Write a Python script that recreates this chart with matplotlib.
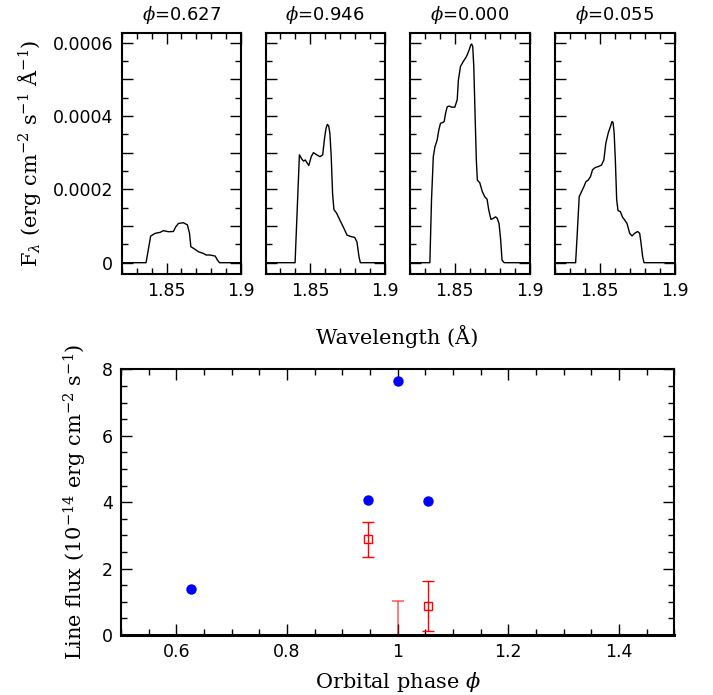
import matplotlib
matplotlib.use("Agg")
import matplotlib.pyplot as plt
from matplotlib.ticker import MultipleLocator, FuncFormatter

plt.rcParams['font.family'] = ['DejaVu Sans']
plt.rcParams['mathtext.fontset'] = 'dejavuserif'

# ---- spectra (wavelength in Angstrom, flux in 1e-4 erg cm^-2 s^-1 A^-1) ----
titles = ["0.627", "0.946", "0.000", "0.055"]

wl_627 = [1.820, 1.8363, 1.8394, 1.8424, 1.8457, 1.8479, 1.8513, 1.8546, 1.8562, 1.858,
          1.8613, 1.864, 1.8654, 1.8663, 1.8681, 1.8714, 1.8748, 1.8765, 1.8792, 1.8826,
          1.8841, 1.8855, 1.900]
fx_627 = [0, 0, 0.727, 0.80, 0.827, 0.873, 0.845, 0.85, 0.98, 1.07,
          1.09, 1.03, 0.80, 0.436, 0.39, 0.30, 0.25, 0.21, 0.21, 0.18,
          0.07, 0, 0]

wl_946 = [1.820, 1.8398, 1.8427, 1.8444, 1.8455, 1.8466, 1.8477, 1.849, 1.8506, 1.8521,
          1.8543, 1.8565, 1.8583, 1.8594, 1.8605, 1.8614, 1.8623, 1.8631, 1.864, 1.8649,
          1.8658, 1.8676, 1.8698, 1.872, 1.8746, 1.8775, 1.8797, 1.8812, 1.8826, 1.8835,
          1.900]
fx_946 = [0, 0, 2.94, 2.82, 2.77, 2.80, 2.73, 2.65, 2.89, 3.00,
          2.94, 2.89, 2.94, 3.35, 3.66, 3.77, 3.73, 3.53, 2.89, 1.89,
          1.45, 1.35, 1.16, 0.98, 0.75, 0.71, 0.69, 0.57, 0.16, 0,
          0]

wl_000 = [1.820, 1.8333, 1.8344, 1.8356, 1.8367, 1.8382, 1.8393, 1.8404, 1.8418, 1.8429,
          1.8438, 1.8449, 1.8462, 1.8478, 1.85, 1.8516, 1.8524, 1.8538, 1.8556, 1.8578,
          1.8596, 1.8607, 1.8613, 1.862, 1.8627, 1.8636, 1.8644, 1.8651, 1.8667, 1.8684,
          1.87, 1.8716, 1.8727, 1.8742, 1.8758, 1.8773, 1.8784, 1.8796, 1.8807, 1.8816,
          1.8831, 1.900]
fx_000 = [0, 0, 1.71, 2.89, 3.16, 3.35, 3.62, 3.80, 3.82, 3.85,
          4.07, 4.25, 4.27, 4.24, 4.24, 4.44, 4.98, 5.35, 5.48, 5.62,
          5.80, 5.94, 5.96, 5.89, 5.35, 3.98, 2.80, 2.25, 2.18, 1.94,
          1.80, 1.73, 1.44, 1.18, 1.21, 1.25, 1.21, 1.07, 0.62, 0.07,
          0, 0]

wl_055 = [1.820, 1.8338, 1.8349, 1.8362, 1.8378, 1.8393, 1.8407, 1.8422, 1.8438, 1.8451,
          1.8467, 1.8489, 1.8511, 1.8527, 1.854, 1.8556, 1.8571, 1.8582, 1.8589, 1.8596,
          1.8604, 1.8613, 1.8622, 1.8638, 1.8651, 1.8667, 1.8682, 1.87, 1.8716, 1.8733,
          1.8753, 1.8767, 1.8776, 1.8787, 1.8796, 1.900]
fx_055 = [0, 0, 0.80, 1.80, 1.94, 2.07, 2.21, 2.25, 2.35, 2.53,
          2.59, 2.62, 2.66, 2.80, 3.25, 3.53, 3.71, 3.85, 3.82, 3.53,
          2.80, 1.71, 1.42, 1.39, 1.25, 1.16, 1.07, 0.80, 0.73, 0.80,
          0.85, 0.80, 0.53, 0.16, 0, 0]

spec_wl = [wl_627, wl_946, wl_000, wl_055]
spec_fx = [fx_627, fx_946, fx_000, fx_055]

# ---- line fluxes (1e-14 erg cm^-2 s^-1) ----
phase_blue = [0.627, 0.946, 1.000, 1.055]
flux_blue = [1.39, 4.07, 7.64, 4.03]

phase_red = [0.946, 1.055]
flux_red = [2.89, 0.87]
err_red_lo = [0.53, 0.74]
err_red_hi = [0.52, 0.75]

phase_lim = [1.000]
flux_lim = [0.0]
err_lim = [1.03]

W, H = 713, 695
fig = plt.figure(figsize=(W / 100, H / 100), dpi=100)

def frac(x0, y0, x1, y1):
    return [x0 / W, 1 - y1 / H, (x1 - x0) / W, (y1 - y0) / H]

lefts = [121.7, 265.5, 410, 555]
tick_kw = dict(direction='in', top=True, right=True)

for i in range(4):
    ax = fig.add_axes(frac(lefts[i], 32.7, lefts[i] + 119.5, 274))
    ax.plot(spec_wl[i], [v * 1e-4 for v in spec_fx[i]], color='black', lw=1.0)
    ax.set_xlim(1.82, 1.90)
    ax.set_ylim(-0.0000308, 0.000627)
    ax.xaxis.set_major_locator(MultipleLocator(0.05))
    ax.xaxis.set_minor_locator(MultipleLocator(0.01))
    ax.yaxis.set_major_locator(MultipleLocator(0.0001))
    ax.yaxis.set_minor_locator(MultipleLocator(0.00005))
    ax.xaxis.set_major_formatter(FuncFormatter(lambda v, p: '%g' % round(v, 3)))
    if i == 0:
        ax.yaxis.set_major_formatter(FuncFormatter(
            lambda v, p: ('%g' % round(v, 5)) if abs(v / 0.0002 - round(v / 0.0002)) < 1e-6 else ''))
    else:
        ax.set_yticklabels([])
    ax.tick_params(which='major', length=8, width=1.0, labelsize=12.5, pad=6, **tick_kw)
    ax.tick_params(which='minor', length=4, width=1.0, **tick_kw)
    for s in ax.spines.values():
        s.set_linewidth(1.5)
    ax.set_title(r'$\phi$=' + titles[i], fontsize=13, pad=9)

fig.text(397 / W, 1 - 336 / H, 'Wavelength (Å)', ha='center', va='center',
         fontsize=15, family='DejaVu Serif')
fig.text(30 / W, 1 - 153 / H, r'F$_\lambda$ (erg cm$^{-2}$ s$^{-1}$ Å$^{-1}$)',
         ha='center', va='center', rotation=90, fontsize=15, family='DejaVu Serif')

ax = fig.add_axes(frac(121, 369.3, 674.3, 635))
ax.set_xlim(0.5, 1.5)
ax.set_ylim(0, 8)
ax.errorbar(phase_lim, flux_lim, yerr=[err_lim, err_lim], fmt='none', ecolor='red',
            alpha=0.55, capsize=4.5, elinewidth=1.3, capthick=1.3, clip_on=True)
ax.errorbar(phase_red, flux_red, yerr=[err_red_lo, err_red_hi], fmt='s', mfc='none',
            mec='red', ms=6, mew=1.0, ecolor='red', capsize=4.5, elinewidth=1.0,
            capthick=1.0)
ax.plot(phase_blue, flux_blue, 'o', color='blue', ms=7.5, mec='none', zorder=5)
ax.xaxis.set_major_locator(MultipleLocator(0.2))
ax.xaxis.set_minor_locator(MultipleLocator(0.05))
ax.yaxis.set_major_locator(MultipleLocator(2))
ax.yaxis.set_minor_locator(MultipleLocator(0.5))
ax.xaxis.set_major_formatter(FuncFormatter(lambda v, p: '%g' % round(v, 3)))
ax.yaxis.set_major_formatter(FuncFormatter(lambda v, p: '%g' % round(v, 3)))
ax.tick_params(which='major', length=8, width=1.0, labelsize=12.5, pad=6, **tick_kw)
ax.tick_params(which='minor', length=4, width=1.0, **tick_kw)
for s in ax.spines.values():
    s.set_linewidth(1.5)
ax.spines['bottom'].set_linewidth(2.2)
ax.set_xlabel(r'Orbital phase $\phi$', fontsize=15, family='DejaVu Serif', labelpad=6)
fig.text(75 / W, 1 - 502 / H, r'Line flux (10$^{-14}$ erg cm$^{-2}$ s$^{-1}$)',
         ha='center', va='center', rotation=90, fontsize=15, family='DejaVu Serif')

fig.savefig('out.png', dpi=100)
